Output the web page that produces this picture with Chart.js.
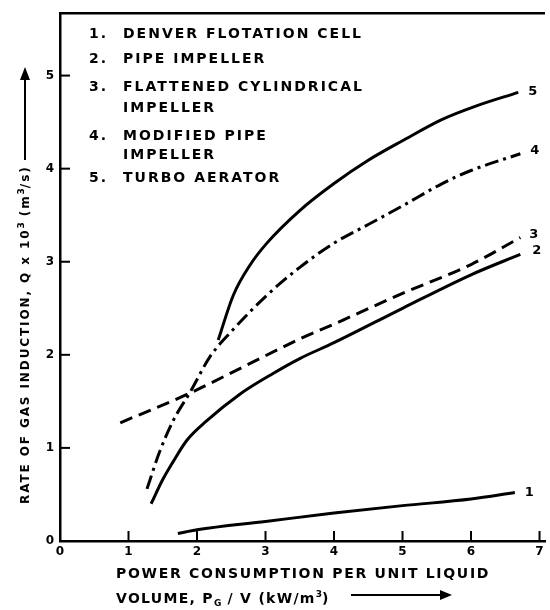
<!DOCTYPE html>
<html>
<head>
<meta charset="utf-8">
<script src="https://cdn.jsdelivr.net/npm/chart.js@4"></script>
<style>
  body { margin: 0; background: #fff; }
  #wrap { position: relative; width: 550px; height: 610px; }
  #wrap canvas { position: absolute; left: 0; top: 0; }
  .t { position: absolute; font-family: "DejaVu Sans"; font-weight: bold; font-size: 14px;
       letter-spacing: 2px; color: #000; white-space: nowrap; line-height: 14px; }
  .t sup, .t sub { font-size: 9px; letter-spacing: 0; }
  .xt { letter-spacing: 1.7px; }
  .ytitle { font-size: 12px; letter-spacing: 1.9px; line-height: 13px; transform: rotate(-90deg); transform-origin: 0 0; }
</style>
</head>
<body>
<div id="wrap">
  <canvas id="chart" width="550" height="610"></canvas>

  <div class="t" style="left:89px;top:26px">1.</div>
  <div class="t" style="left:123px;top:26px">DENVER FLOTATION CELL</div>
  <div class="t" style="left:89px;top:51px">2.</div>
  <div class="t" style="left:123px;top:51px">PIPE IMPELLER</div>
  <div class="t" style="left:89px;top:79px">3.</div>
  <div class="t" style="left:123px;top:79px">FLATTENED CYLINDRICAL</div>
  <div class="t" style="left:123px;top:100px">IMPELLER</div>
  <div class="t" style="left:89px;top:128px">4.</div>
  <div class="t" style="left:123px;top:128px">MODIFIED PIPE</div>
  <div class="t" style="left:123px;top:147px">IMPELLER</div>
  <div class="t" style="left:89px;top:170px">5.</div>
  <div class="t" style="left:123px;top:170px">TURBO AERATOR</div>

  <div class="t xt" style="left:116px;top:566px">POWER CONSUMPTION PER UNIT LIQUID</div>
  <div class="t xt" style="left:116px;top:587px;letter-spacing:1.3px">VOLUME, P<sub>G</sub> / V (kW/m<sup>3</sup>)</div>

  <div class="t ytitle" style="left:15px;top:504px">RATE OF GAS INDUCTION, Q x 10<sup>3</sup> (m<sup>3</sup>/s)</div>
</div>

<script>
// Gas induction rate vs power per unit volume
const xTicks = [0, 1, 2, 3, 4, 5, 6, 7];
const yTicks = [0, 1, 2, 3, 4, 5];
const curveLabels = ['1', '2', '3', '4', '5'];

// 1. Denver flotation cell
const denverX = [1.72, 2.0, 3.0, 4.0, 5.0, 6.0, 6.64];
const denverY = [0.08, 0.12, 0.21, 0.30, 0.38, 0.45, 0.52];
// 2. Pipe impeller
const pipeX = [1.33, 1.5, 1.65, 1.85, 2.14, 2.63, 3.11, 3.5, 4.0, 5.0, 6.0, 6.72];
const pipeY = [0.40, 0.66, 0.85, 1.08, 1.29, 1.58, 1.80, 1.96, 2.13, 2.50, 2.86, 3.08];
// 3. Flattened cylindrical impeller
const flatX = [0.88, 1.9, 2.7, 3.5, 4.0, 5.0, 6.0, 6.72];
const flatY = [1.27, 1.59, 1.88, 2.17, 2.33, 2.66, 2.97, 3.26];
// 4. Modified pipe impeller
const modX = [1.27, 1.45, 1.65, 1.9, 2.19, 2.5, 3.02, 3.5, 4.0, 4.5, 5.0, 5.58, 6.0, 6.72];
const modY = [0.56, 0.95, 1.29, 1.60, 1.98, 2.25, 2.64, 2.94, 3.20, 3.40, 3.60, 3.84, 3.98, 4.16];
// 5. Turbo aerator
const turboX = [2.31, 2.53, 2.77, 3.02, 3.5, 4.0, 4.5, 5.0, 5.58, 6.06, 6.69];
const turboY = [2.16, 2.64, 2.96, 3.20, 3.55, 3.84, 4.09, 4.30, 4.53, 4.67, 4.82];

const pts = (xs, ys) => xs.map((v, i) => ({ x: v, y: ys[i] }));
const font = { family: 'DejaVu Sans', weight: 'bold', size: 12 };

function line(xs, ys, dash) {
  return {
    data: pts(xs, ys),
    borderColor: '#000',
    borderWidth: 3,
    borderDash: dash,
    pointRadius: 0,
    tension: 0.4,
    cubicInterpolationMode: 'monotone',
    fill: false
  };
}

// offsets of the curve numbers from each curve's last point
const labelOffsets = [[10, 0], [12, -4], [9, -3], [10, -3], [10, -1]];

const decor = {
  id: 'decor',
  afterDraw(chart) {
    const { ctx, chartArea: a, scales: { x, y } } = chart;
    ctx.save();
    ctx.strokeStyle = '#000';
    ctx.fillStyle = '#000';

    // top frame line
    ctx.lineWidth = 2.5;
    ctx.beginPath();
    ctx.moveTo(a.left, a.top);
    ctx.lineTo(a.right, a.top);
    ctx.stroke();

    // tick marks pointing into the plot
    ctx.lineWidth = 2;
    xTicks.forEach(v => {
      if (v === 0) return;
      const px = x.getPixelForValue(v);
      ctx.beginPath();
      ctx.moveTo(px, a.bottom);
      ctx.lineTo(px, a.bottom - 10);
      ctx.stroke();
    });
    yTicks.forEach(v => {
      if (v === 0) return;
      const py = y.getPixelForValue(v);
      ctx.beginPath();
      ctx.moveTo(a.left, py);
      ctx.lineTo(a.left + 10, py);
      ctx.stroke();
    });

    // curve numbers
    ctx.font = 'bold 13px "DejaVu Sans"';
    ctx.textBaseline = 'middle';
    chart.data.datasets.forEach((ds, i) => {
      const p = ds.data[ds.data.length - 1];
      ctx.fillText(curveLabels[i],
        x.getPixelForValue(p.x) + labelOffsets[i][0],
        y.getPixelForValue(p.y) + labelOffsets[i][1]);
    });

    // axis arrows
    ctx.lineWidth = 2;
    ctx.beginPath();
    ctx.moveTo(351, 595); ctx.lineTo(442, 595);
    ctx.moveTo(25, 160); ctx.lineTo(25, 78);
    ctx.stroke();
    ctx.beginPath();
    ctx.moveTo(452, 595); ctx.lineTo(440, 590); ctx.lineTo(440, 600); ctx.closePath();
    ctx.moveTo(25, 67); ctx.lineTo(20, 80); ctx.lineTo(30, 80); ctx.closePath();
    ctx.fill();
    ctx.restore();
  }
};

new Chart(document.getElementById('chart'), {
  type: 'line',
  data: {
    datasets: [
      line(denverX, denverY, []),
      line(pipeX, pipeY, []),
      line(flatX, flatY, [13, 7]),
      line(modX, modY, [14, 5, 3, 5]),
      line(turboX, turboY, [])
    ]
  },
  options: {
    responsive: false,
    animation: false,
    layout: { padding: { left: 40, top: 8, right: 5, bottom: 47 } },
    plugins: { legend: { display: false }, tooltip: { enabled: false } },
    scales: {
      x: {
        type: 'linear', min: 0, max: 7.08,
        afterBuildTicks: s => { s.ticks = xTicks.map(v => ({ value: v })); },
        afterFit: s => { s.height = 22; },
        ticks: { color: '#000', font: font, padding: 4, autoSkip: false },
        grid: { drawOnChartArea: false, drawTicks: false },
        border: { color: '#000', width: 2.5 }
      },
      y: {
        type: 'linear', min: 0, max: 5.67,
        afterBuildTicks: s => { s.ticks = yTicks.map(v => ({ value: v })); },
        afterFit: s => { s.width = 20; },
        ticks: { color: '#000', font: font, padding: 6, autoSkip: false },
        grid: { drawOnChartArea: false, drawTicks: false },
        border: { color: '#000', width: 2.5 }
      }
    }
  },
  plugins: [decor]
});
</script>
</body>
</html>
